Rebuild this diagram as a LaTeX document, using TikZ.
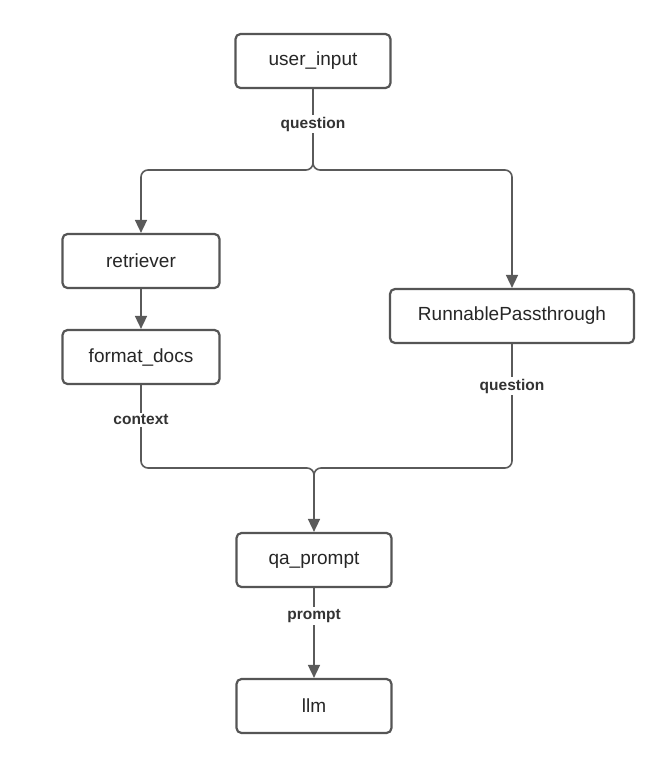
\documentclass[tikz,border=0pt]{standalone}
\usepackage{fontspec}
\setmainfont{Liberation Sans}
\usetikzlibrary{arrows.meta}
\definecolor{edgegray}{HTML}{5A5A5A}
\definecolor{boxgray}{HTML}{555555}
\tikzset{
	stepbox/.style = {draw=boxgray,line width=2.2pt,rounded corners=5pt,minimum height=54pt,inner sep=0pt,text=black!85,font=\fontsize{19}{23}\selectfont},
	flow/.style = {draw=edgegray,line width=1.6pt,rounded corners=7pt,-{Triangle[length=13pt,width=12pt]}},
	mergeline/.style = {draw=edgegray,line width=1.6pt,rounded corners=7pt},
	lbl/.style = {fill=white,inner sep=2pt,text=black!80,font=\fontsize{15.5}{18}\selectfont\bfseries}
}
\begin{document}
		\begin{tikzpicture}[x=1pt,y=-1pt]
			\useasboundingbox[fill=white] (0,0) rectangle (652,772);
			\node[stepbox,minimum width=155pt] (ui) at (313,61) {user\_input};
			\node[stepbox,minimum width=157pt] (rt) at (141,261) {retriever};
			\node[stepbox,minimum width=157pt] (fd) at (141,357) {format\_docs};
			\node[stepbox,minimum width=244pt] (rp) at (512,316) {RunnablePassthrough};
			\node[stepbox,minimum width=155pt] (qa) at (314,560) {qa\_prompt};
			\node[stepbox,minimum width=155pt] (llm) at (314,706) {llm};
			\coordinate (split) at (ui.south |- 0,170);
			\coordinate (merge) at (qa.north |- 0,468);
			% fan out
			\draw[flow] (ui.south) -- (split) -- (rt.north |- split) -- (rt.north);
			\draw[flow] (ui.south) -- (split) -- (rp.north |- split) -- (rp.north);
			\draw[flow] (rt.south) -- (fd.north);
			% fan in
			\draw[mergeline] (fd.south) -- (fd.south |- merge) -- (merge) -- ++(0,12);
			\draw[mergeline] (rp.south) -- (rp.south |- merge) -- (merge) -- ++(0,12);
			\draw[flow] (merge) ++(0,6) -- (qa.north);
			\draw[flow] (qa.south) -- (llm.north);
			\node[lbl] (q1) at (313,124) {question};
			\node[lbl] (q2) at (512,386) {question};
			\node[lbl] (ctx) at (141,420) {context};
			\node[lbl] (pr) at (314,616) {prompt};
		\end{tikzpicture}
\end{document}
